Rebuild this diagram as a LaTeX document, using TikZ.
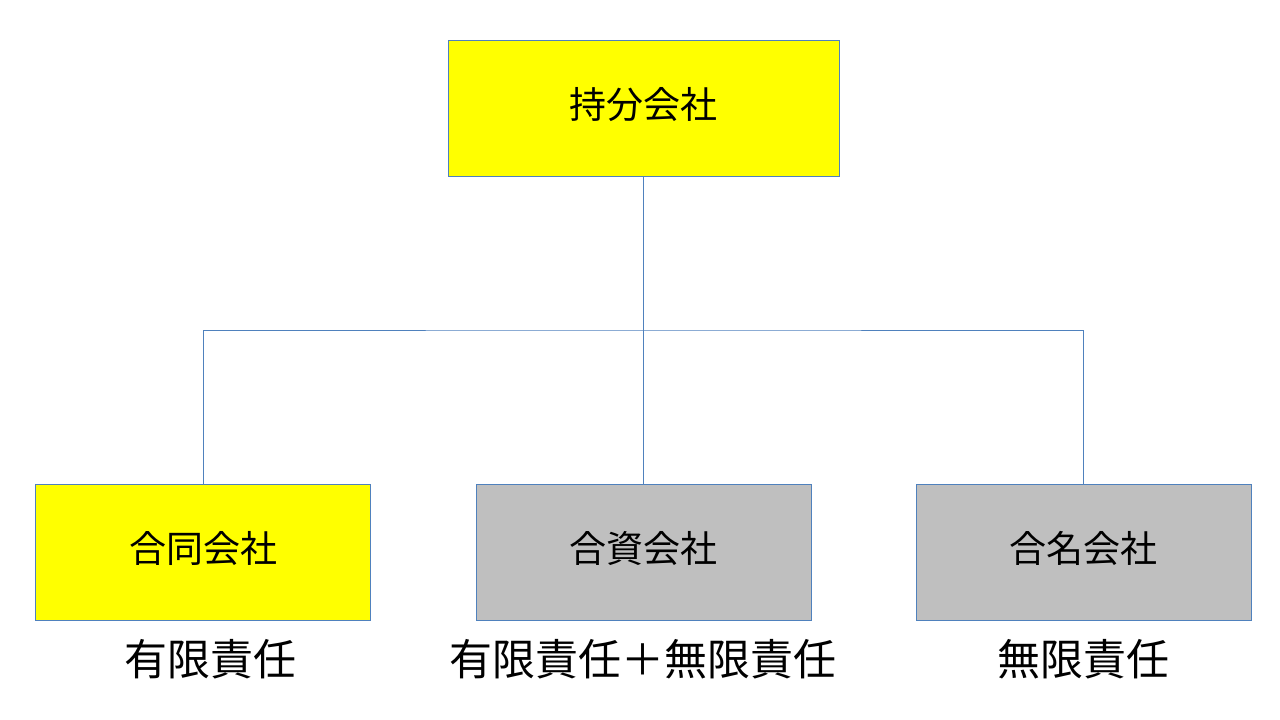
\documentclass[tikz,border=0pt]{standalone}
\usepackage{fontspec}
\setmainfont{Noto Sans CJK JP}
\definecolor{edge}{HTML}{4F81BD}
\definecolor{yel}{HTML}{FFFF00}
\definecolor{gry}{HTML}{BFBFBF}
\tikzset{
  box/.style={draw=edge, line width=0.8pt, minimum width=335pt, minimum height=136pt, inner sep=0pt, text depth=10pt, font=\fontsize{37}{40}\selectfont, text=black},
  lbl/.style={inner sep=0pt, font=\fontsize{43}{46}\selectfont, text=black},
  conn/.style={draw=edge, line width=0.9pt}
}
\begin{document}
\begin{tikzpicture}[x=1pt,y=-1pt]
\useasboundingbox[fill=white] (0,0) rectangle (1280,720);
\node[box, fill=yel, minimum width=391pt] (top) at (643.5,108) {持分会社};
\node[box, fill=yel] (l) at (203,552) {合同会社};
\node[box, fill=gry] (m) at (643.5,552) {合資会社};
\node[box, fill=gry] (r) at (1083.5,552) {合名会社};
\coordinate (j) at (643.5,330);
\draw[conn] (top.south) -- (j);
\draw[conn] (l.north) |- (j) -| (r.north);
\draw[conn] (j) -- (m.north);
\node[lbl] (ll) at (210,659) {有限責任};
\node[lbl] (ml) at (643,659) {有限責任＋無限責任};
\node[lbl] (rl) at (1083,659) {無限責任};
\end{tikzpicture}
\end{document}
